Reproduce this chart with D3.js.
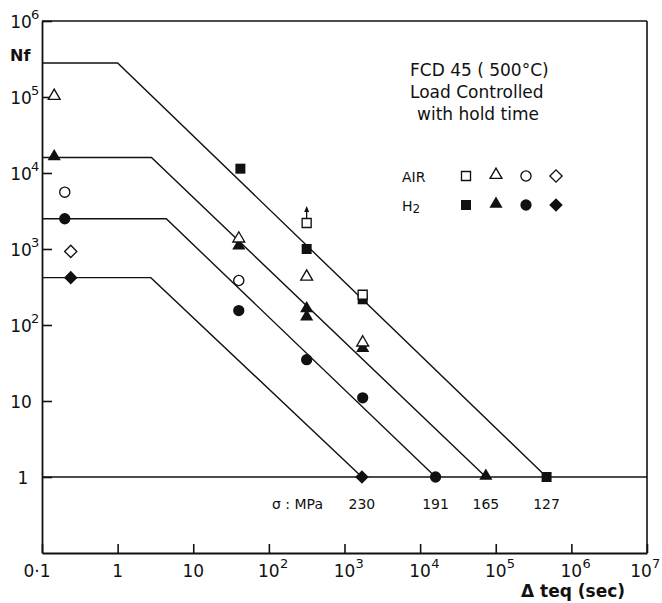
<!DOCTYPE html>
<html>
<head>
<meta charset="utf-8">
<script src="https://cdn.jsdelivr.net/npm/d3@7"></script>
<style>
body { margin: 0; background: #fff; }
.canvas { width: 662px; height: 603px; }
text { font-family: "DejaVu Sans", sans-serif; fill: #111; }
</style>
</head>
<body>
<div class="canvas"></div>
<script>
// tick values and labels
const xTicks = [0.1, 1, 10, 100, 1e3, 1e4, 1e5, 1e6, 1e7];
const xTickBase = ['0·1', '1', '10', '10', '10', '10', '10', '10', '10'];
const xTickExp = ['', '', '', '2', '3', '4', '5', '6', '7'];
const yTicks = [1, 10, 100, 1e3, 1e4, 1e5, 1e6];
const yTickBase = ['1', '10', '10', '10', '10', '10', '10'];
const yTickExp = ['', '', '2', '3', '4', '5', '6'];

// fitted lines, one per stress level (MPa): [teq, Nf] vertices
const stresses = [127, 165, 191, 230];
const lineShapes = ['square', 'triangle', 'circle', 'diamond'];
const fitLines = [
	[[0.1, 2.8e5], [1, 2.8e5], [4.7e5, 1]],
	[[0.1, 1.6e4], [2.8, 1.6e4], [7.4e4, 1]],
	[[0.1, 2.5e3], [4.4, 2.5e3], [1.6e4, 1]],
	[[0.1, 420], [2.75, 420], [1700, 1]]
];

// test points in air (open symbols): [teq, Nf, shape]
const airPoints = [
	[0.145, 1e5, 'triangle'],
	[0.2, 5600, 'circle'],
	[0.24, 930, 'diamond'],
	[40, 1330, 'triangle'],
	[40, 385, 'circle'],
	[316, 2200, 'square'],
	[316, 420, 'triangle'],
	[1740, 250, 'square'],
	[1740, 57, 'triangle']
];
// runout (arrow) points
const runouts = [[316, 2200]];

// test points in hydrogen (filled symbols)
const h2Points = [
	[0.145, 1.6e4, 'triangle'],
	[0.2, 2500, 'circle'],
	[0.24, 420, 'diamond'],
	[42, 1.14e4, 'square'],
	[40, 1070, 'triangle'],
	[40, 155, 'circle'],
	[316, 1000, 'square'],
	[316, 160, 'triangle'],
	[316, 125, 'triangle'],
	[316, 35, 'circle'],
	[1740, 218, 'square'],
	[1740, 48, 'triangle'],
	[1740, 11, 'circle'],
	[1700, 1, 'diamond'],
	[1.6e4, 1, 'circle'],
	[7.4e4, 1, 'triangle'],
	[4.7e5, 1, 'square']
];

const W = 662, H = 603;
const m = { t: 21, r: 15, b: 50, l: 42 };

const svg = d3.select('.canvas').append('svg')
	.attr('width', W)
	.attr('height', H);

const x = d3.scaleLog().domain([0.1, 1e7]).range([m.l, W - m.r]);
const y = d3.scaleLog().domain([0.1, 1e6]).range([553, m.t]);

// symbol generator
function symbolPath(shape) {
	if (shape == 'square') return d3.symbol(d3.symbolSquare, 100)();
	if (shape == 'triangle') return d3.symbol(d3.symbolTriangle, 75)();
	if (shape == 'circle') return d3.symbol(d3.symbolCircle, 100)();
	if (shape == 'diamond') return d3.symbol(d3.symbolSquare, 92)();
}
function symbolTransform(d, cx, cy) {
	let t = `translate(${cx},${cy})`;
	if (d == 'diamond') t += ' rotate(45)';
	if (d == 'triangle') t += ' translate(0,-1)';
	return t;
}

//axes (inward ticks)
const xAxis = svg.append('g')
	.attr('transform', `translate(0,${y.range()[0]})`)
	.call(d3.axisBottom(x).tickValues(xTicks).tickSize(-9).tickSizeOuter(0).tickFormat(''));
const yAxis = svg.append('g')
	.attr('transform', `translate(${m.l},0)`)
	.call(d3.axisLeft(y).tickValues(yTicks).tickSize(-10).tickSizeOuter(0).tickFormat(''));
[xAxis, yAxis].forEach(a => {
	a.select('.domain').attr('stroke', '#111').attr('stroke-width', 1.8);
	a.selectAll('.tick line').attr('stroke', '#111').attr('stroke-width', 1.6);
});

// frame top and right
svg.append('line')
	.attr('x1', m.l).attr('x2', x(1e7)).attr('y1', y(1e6)).attr('y2', y(1e6))
	.attr('stroke', '#111').attr('stroke-width', 1.6);
svg.append('line')
	.attr('x1', x(1e7)).attr('x2', x(1e7)).attr('y1', y(1e6)).attr('y2', y.range()[0])
	.attr('stroke', '#111').attr('stroke-width', 1.6);

// Nf = 1 line
svg.append('line')
	.attr('x1', m.l).attr('x2', x(1e7)).attr('y1', y(1)).attr('y2', y(1))
	.attr('stroke', '#111').attr('stroke-width', 1.4);

// x tick labels (last one squeezed to stay inside the picture)
xTicks.forEach((t, i) => {
	const last = i == xTicks.length - 1;
	const g = svg.append('g');
	g.append('text')
		.attr('x', x(t) + (i == 0 ? -5 : last ? -6 : 0))
		.attr('y', 577)
		.attr('text-anchor', 'middle')
		.style('font-size', '17px')
		.text(xTickBase[i]);
	if (xTickExp[i]) {
		g.append('text')
			.attr('x', x(t) + (last ? 5 : 11))
			.attr('y', 568)
			.style('font-size', '13px')
			.text(xTickExp[i]);
	}
});

// y tick labels
yTicks.forEach((t, i) => {
	svg.append('text')
		.attr('x', i == 0 ? 23 : 21)
		.attr('y', y(t) + 7)
		.attr('text-anchor', 'middle')
		.style('font-size', '17px')
		.text(yTickBase[i]);
	if (yTickExp[i]) {
		svg.append('text')
			.attr('x', 31)
			.attr('y', y(t) - 2)
			.style('font-size', '13px')
			.text(yTickExp[i]);
	}
});

// axis titles
svg.append('text')
	.attr('x', 10).attr('y', 61)
	.style('font-size', '16px').style('font-weight', 'bold')
	.text('Nf');
svg.append('text')
	.attr('x', 521).attr('y', 597)
	.style('font-size', '17px').style('font-weight', 'bold')
	.text('\u0394 teq (sec)');

// fitted lines
const line = d3.line().x(d => x(d[0])).y(d => y(d[1]));
svg.append('g').selectAll('path')
	.data(fitLines)
	.enter()
	.append('path')
	.attr('d', line)
	.attr('fill', 'none')
	.attr('stroke', '#111')
	.attr('stroke-width', 1.4);

// stress labels
svg.append('text')
	.attr('x', 272).attr('y', 509)
	.style('font-size', '14px')
	.text('\u03c3 : MPa');
svg.append('g').selectAll('text')
	.data(stresses)
	.enter()
	.append('text')
	.attr('x', (d, i) => x(fitLines[i][2][0]))
	.attr('y', 509)
	.attr('text-anchor', 'middle')
	.style('font-size', '14px')
	.text(d => d);

// runout arrows
runouts.forEach(d => {
	const cx = x(d[0]), cy = y(d[1]);
	svg.append('line')
		.attr('x1', cx).attr('x2', cx).attr('y1', cy - 5).attr('y2', cy - 13)
		.attr('stroke', '#111').attr('stroke-width', 1.3);
	svg.append('path')
		.attr('d', `M${cx},${cy - 17} L${cx - 2.5},${cy - 11} L${cx + 2.5},${cy - 11} Z`)
		.attr('fill', '#111');
});

// points
svg.append('g').selectAll('path')
	.data(h2Points)
	.enter()
	.append('path')
	.attr('d', d => symbolPath(d[2]))
	.attr('transform', d => symbolTransform(d[2], x(d[0]), y(d[1])))
	.attr('fill', '#111');
svg.append('g').selectAll('path')
	.data(airPoints)
	.enter()
	.append('path')
	.attr('d', d => symbolPath(d[2]))
	.attr('fill', '#fff')
	.attr('stroke', '#111')
	.attr('stroke-width', 1.5)
	.attr('transform', d => symbolTransform(d[2], x(d[0]), y(d[1])) + ' scale(0.9)');

// title block
const title = ['FCD 45 ( 500\u00b0C)', 'Load Controlled', 'with hold time'];
svg.append('g').selectAll('text')
	.data(title)
	.enter()
	.append('text')
	.attr('x', (d, i) => i == 2 ? 417 : 410)
	.attr('y', (d, i) => 76 + i * 22)
	.style('font-size', '17px')
	.text(d => d);

// legend
const legendX = [466, 496, 526, 556];
svg.append('text').attr('x', 402).attr('y', 182).style('font-size', '14px').text('AIR');
const h2Label = svg.append('text').attr('x', 402).attr('y', 211).style('font-size', '14px');
h2Label.append('tspan').text('H');
h2Label.append('tspan').attr('dy', 2).style('font-size', '12px').text('2');
svg.append('g').selectAll('path')
	.data(lineShapes)
	.enter()
	.append('path')
	.attr('d', d => symbolPath(d))
	.attr('transform', (d, i) => symbolTransform(d, legendX[i], 176) + ' scale(0.9)')
	.attr('fill', '#fff')
	.attr('stroke', '#111')
	.attr('stroke-width', 1.5);
svg.append('g').selectAll('path')
	.data(lineShapes)
	.enter()
	.append('path')
	.attr('d', d => symbolPath(d))
	.attr('transform', (d, i) => symbolTransform(d, legendX[i], 205))
	.attr('fill', '#111');
</script>
</body>
</html>
